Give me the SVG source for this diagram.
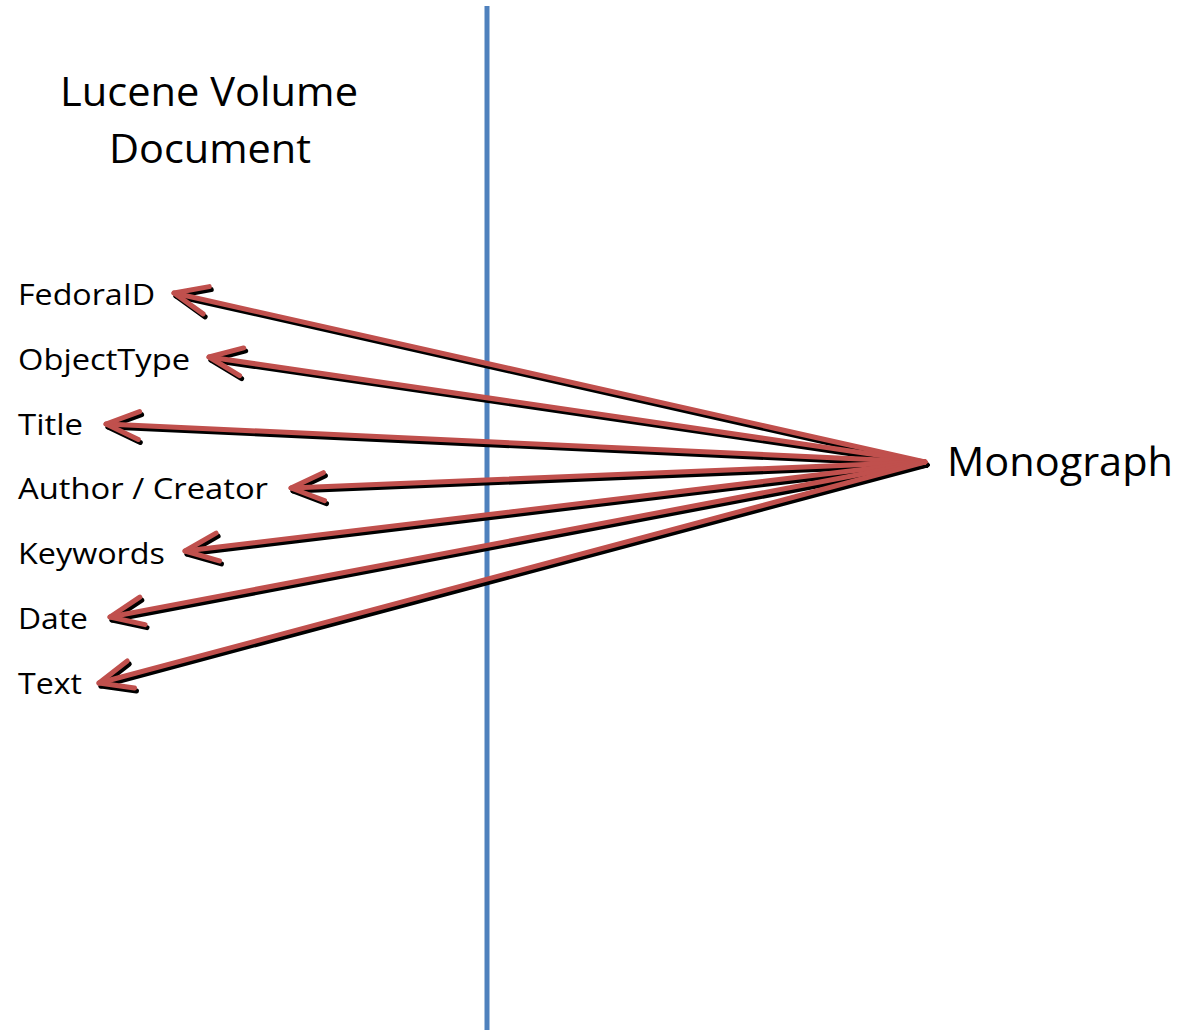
<svg xmlns="http://www.w3.org/2000/svg" width="1182" height="1035" viewBox="0 0 1182 1035">
<defs>
<style>
.lbl{font-family:"Open Sans","Liberation Sans",sans-serif;font-size:30px;fill:#000}
.big{font-family:"Open Sans","Liberation Sans",sans-serif;font-size:41px;fill:#000}
.arr{fill:none;stroke:#C0504D;stroke-width:5;stroke-linecap:round;marker-end:url(#head)}
.sh{fill:none;stroke:#000;stroke-width:5;stroke-linecap:round;marker-end:url(#headsh)}
</style>
<marker id="head" markerUnits="userSpaceOnUse" orient="auto" viewBox="-40 -20 50 40" markerWidth="50" markerHeight="40" refX="0" refY="0" overflow="visible">
<path d="M-33,-14 L0,0 L-33,14" fill="none" stroke="#C0504D" stroke-width="5" stroke-linecap="round" stroke-linejoin="round"/>
</marker>
<marker id="headsh" markerUnits="userSpaceOnUse" orient="auto" viewBox="-40 -20 50 40" markerWidth="50" markerHeight="40" refX="0" refY="0" overflow="visible">
<path d="M-33,-14 L0,0 L-33,14" fill="none" stroke="#000" stroke-width="5" stroke-linecap="round" stroke-linejoin="round"/>
</marker>
</defs>
<rect width="1182" height="1035" fill="#fff"/>
<g id="divider">
<line x1="487" y1="6" x2="487" y2="1030" stroke="#4F81BD" stroke-width="5"/>
</g>
<g id="title"><text class="big" x="60" y="106" textLength="298" lengthAdjust="spacingAndGlyphs">Lucene Volume</text><text class="big" x="109" y="163" textLength="202" lengthAdjust="spacingAndGlyphs">Document</text></g>
<g id="monograph"><text class="big" x="947" y="476" textLength="226" lengthAdjust="spacingAndGlyphs">Monograph</text></g>
<g id="fedoraid"><text class="lbl" x="18" y="305" textLength="137" lengthAdjust="spacingAndGlyphs">FedoraID</text></g>
<g id="objecttype"><text class="lbl" x="18" y="370" textLength="172" lengthAdjust="spacingAndGlyphs">ObjectType</text></g>
<g id="titlefield"><text class="lbl" x="18" y="435" textLength="65" lengthAdjust="spacingAndGlyphs">Title</text></g>
<g id="author"><text class="lbl" x="18" y="499" textLength="250" lengthAdjust="spacingAndGlyphs">Author / Creator</text></g>
<g id="keywords"><text class="lbl" x="18" y="564" textLength="147" lengthAdjust="spacingAndGlyphs">Keywords</text></g>
<g id="date"><text class="lbl" x="18" y="629" textLength="70" lengthAdjust="spacingAndGlyphs">Date</text></g>
<g id="text"><text class="lbl" x="18" y="694" textLength="64" lengthAdjust="spacingAndGlyphs">Text</text></g>
<g id="connectors">
<g transform="translate(2,3)">
<path class="sh" d="M925,462 L174,293"/>
<path class="sh" d="M925,462 L209,357"/>
<path class="sh" d="M925,462 L106,424"/>
<path class="sh" d="M925,462 L291,488"/>
<path class="sh" d="M925,462 L185,551"/>
<path class="sh" d="M925,462 L110,617"/>
<path class="sh" d="M925,462 L99,683"/>
</g>
<path class="arr" d="M925,462 L174,293"/>
<path class="arr" d="M925,462 L209,357"/>
<path class="arr" d="M925,462 L106,424"/>
<path class="arr" d="M925,462 L291,488"/>
<path class="arr" d="M925,462 L185,551"/>
<path class="arr" d="M925,462 L110,617"/>
<path class="arr" d="M925,462 L99,683"/>
</g>
</svg>
